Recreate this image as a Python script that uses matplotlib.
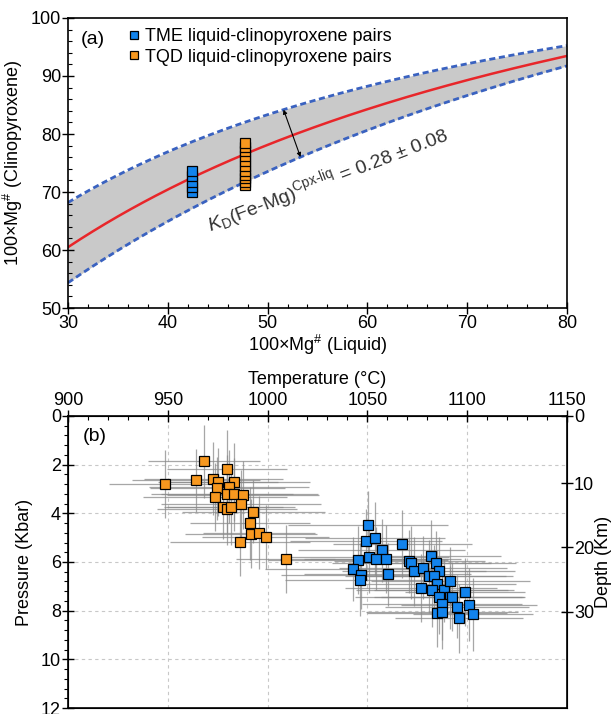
import numpy as np
import matplotlib.pyplot as plt
from matplotlib.ticker import MultipleLocator

plt.rcParams['font.family'] = ['Liberation Sans', 'DejaVu Sans']
plt.rcParams['mathtext.fontset'] = 'custom'
plt.rcParams['mathtext.rm'] = 'Liberation Sans'
plt.rcParams['mathtext.it'] = 'Liberation Sans:italic'

# panel (a): Kd(Fe-Mg) cpx-liquid equilibrium
kd_mid = 0.28
kd_lo = 0.20
kd_hi = 0.36
mg_liq = np.linspace(30, 80, 200)

tme_liq = [42.4, 42.4, 42.4, 42.4, 42.4]
tme_cpx = [70.0, 70.9, 71.8, 72.7, 73.6]
tqd_liq = [47.7] * 11
tqd_cpx = [71.2, 71.8, 72.4, 73.0, 73.6, 74.5, 75.4, 76.2, 77.0, 77.8, 78.4]

# panel (b): thermobarometry
tqd_T = [968.0, 979.5, 948.5, 964.1, 972.9, 975.1, 983.4, 974.9, 980.8, 973.5, 979.5, 983.4,
         987.7, 977.9, 979.8, 981.8, 986.8, 992.9, 991.3, 991.7, 995.6, 999.0, 986.2, 1009.0]
tqd_P = [1.86, 2.17, 2.79, 2.65, 2.58, 2.73, 2.72, 2.97, 2.90, 3.34, 3.21, 3.21,
         3.24, 3.75, 3.82, 3.72, 3.61, 3.93, 4.41, 4.83, 4.80, 4.97, 5.19, 5.89]
tqd_Terr = [28, 30, 28, 32, 35, 30, 38, 34, 40, 36, 33, 42,
            38, 30, 35, 32, 40, 36, 30, 33, 28, 32, 35, 25]
tqd_Perr = [1.5, 1.6, 1.4, 1.3, 1.5, 1.4, 1.6, 1.3, 1.5, 1.4, 1.6, 1.5,
            1.4, 1.3, 1.5, 1.6, 1.4, 1.3, 1.5, 1.4, 1.5, 1.3, 1.4, 1.4]

tme_T = [1050.2, 1049.2, 1053.8, 1057.1, 1045.3, 1050.8, 1054.2, 1059.1, 1042.9, 1046.9,
         1046.5, 1060.1, 1067.6, 1071.1, 1072.1, 1073.5, 1077.8, 1076.9, 1081.8, 1084.3,
         1085.9, 1081.0, 1083.4, 1084.7, 1082.4, 1088.3, 1091.6, 1085.7, 1091.2, 1092.6,
         1087.3, 1084.9, 1087.3, 1094.8, 1099.1, 1101.1, 1095.8, 1103.1]
tme_P = [4.50, 5.12, 5.02, 5.52, 5.93, 5.79, 5.86, 5.89, 6.29, 6.55,
         6.73, 6.50, 5.27, 5.97, 6.04, 6.39, 6.23, 7.08, 5.77, 6.03,
         6.39, 6.59, 6.59, 6.92, 7.17, 7.17, 6.80, 7.45, 7.45, 7.42,
         7.72, 8.10, 8.07, 7.83, 7.25, 7.75, 8.32, 8.14]
tme_Terr = [40, 38, 35, 42, 45, 40, 36, 38, 44, 40,
            38, 42, 35, 38, 40, 36, 42, 38, 35, 40,
            38, 42, 36, 40, 38, 35, 40, 42, 38, 36,
            40, 35, 38, 36, 30, 34, 32, 30]
tme_Perr = [1.4, 1.3, 1.5, 1.3, 1.4, 1.5, 1.3, 1.4, 1.3, 1.4,
            1.5, 1.3, 1.4, 1.3, 1.5, 1.4, 1.3, 1.4, 1.5, 1.3,
            1.4, 1.5, 1.3, 1.4, 1.5, 1.3, 1.4, 1.5, 1.3, 1.4,
            1.5, 1.4, 1.5, 1.3, 1.4, 1.5, 1.4, 1.5]

depth_ticks = [0, 10, 20, 30]
depth_at_P = [0, 2.76, 5.40, 8.04]

blue = '#1283ec'
orange = '#f7981f'


def cpx_mg(liq, kd):
    x = liq / 100.0
    return 100.0 / (1 + kd * (1 - x) / x)


fig = plt.figure(figsize=(6.14, 7.14), dpi=100)

# ---- panel (a)
ax1 = fig.add_axes([0.1107, 0.5686, 0.8127, 0.4062])
ax1.fill_between(mg_liq, cpx_mg(mg_liq, kd_hi), cpx_mg(mg_liq, kd_lo), color='#c9c9c9', lw=0)
ax1.plot(mg_liq, cpx_mg(mg_liq, kd_lo), color='#3a62c0', lw=2, ls=(0, (2.2, 1.3)))
ax1.plot(mg_liq, cpx_mg(mg_liq, kd_hi), color='#3a62c0', lw=2, ls=(0, (2.2, 1.3)))
ax1.plot(mg_liq, cpx_mg(mg_liq, kd_mid), color='#e8262a', lw=1.8)
ax1.plot(tme_liq, tme_cpx, 's', color=blue, mec='black', mew=0.9, ms=7,
         label='TME liquid-clinopyroxene pairs')
ax1.plot(tqd_liq, tqd_cpx, 's', color=orange, mec='black', mew=0.9, ms=7,
         label='TQD liquid-clinopyroxene pairs')
ax1.annotate('', xy=(51.6, cpx_mg(51.6, kd_lo)), xytext=(53.3, cpx_mg(53.3, kd_hi)),
             arrowprops=dict(arrowstyle='<|-|>', color='black', lw=0.8,
                             mutation_scale=6, shrinkA=0, shrinkB=0))
ax1.text(56.0, 72.0, r'$K_{\mathrm{D}}$(Fe-Mg)$^{\mathrm{Cpx\text{-}liq}}$ = 0.28 ± 0.08',
         rotation=21, ha='center', va='center', rotation_mode='anchor',
         fontsize=14, color='#333333')
ax1.text(0.026, 0.925, '(a)', transform=ax1.transAxes, fontsize=14, va='center')
ax1.legend(loc='upper left', bbox_to_anchor=(0.1, 0.99), frameon=False, fontsize=13,
           handletextpad=0.1, handlelength=1.0, borderaxespad=0, labelspacing=0.2,
           markerscale=0.9)
ax1.set_xlim(30, 80)
ax1.set_ylim(50, 100)
ax1.xaxis.set_major_locator(MultipleLocator(10))
ax1.xaxis.set_minor_locator(MultipleLocator(2))
ax1.yaxis.set_major_locator(MultipleLocator(10))
ax1.yaxis.set_minor_locator(MultipleLocator(2))
ax1.tick_params(which='major', direction='inout', length=8, width=1, labelsize=13, pad=1)
ax1.tick_params(which='minor', direction='in', length=3, width=0.8)
ax1.set_xlabel('100×Mg$^{\\#}$ (Liquid)', fontsize=13, labelpad=1)
ax1.set_ylabel('100×Mg$^{\\#}$ (Clinopyroxene)', fontsize=13, labelpad=4)
for s in ax1.spines.values():
    s.set_linewidth(1.2)

# ---- panel (b)
ax2 = fig.add_axes([0.1107, 0.0084, 0.8127, 0.409])
ax2.errorbar(tqd_T, tqd_P, xerr=tqd_Terr, yerr=tqd_Perr, fmt='none',
             ecolor='#8a8a8a', elinewidth=0.9, alpha=0.75, zorder=2)
ax2.errorbar(tme_T, tme_P, xerr=tme_Terr, yerr=tme_Perr, fmt='none',
             ecolor='#8a8a8a', elinewidth=0.9, alpha=0.75, zorder=2)
ax2.plot(tqd_T, tqd_P, 's', color=orange, mec='black', mew=0.9, ms=6.5, zorder=3)
ax2.plot(tme_T, tme_P, 's', color=blue, mec='black', mew=0.9, ms=6.5, zorder=3)
ax2.set_xlim(900, 1150)
ax2.set_ylim(12, 0)
ax2.xaxis.tick_top()
ax2.xaxis.set_label_position('top')
ax2.xaxis.set_major_locator(MultipleLocator(50))
ax2.xaxis.set_minor_locator(MultipleLocator(10))
ax2.yaxis.set_major_locator(MultipleLocator(2))
ax2.yaxis.set_minor_locator(MultipleLocator(0.4))
ax2.grid(which='major', color='#c8c8c8', ls=(0, (3, 3)), lw=0.8)
ax2.tick_params(which='major', direction='inout', length=8, width=1, labelsize=13, pad=1)
ax2.tick_params(which='minor', direction='in', length=3, width=0.8)
ax2.tick_params(axis='y', which='minor', direction='out')
ax2.set_xlabel('Temperature (°C)', fontsize=13, labelpad=6)
ax2.set_ylabel('Pressure (Kbar)', fontsize=13, labelpad=6)
ax2.text(0.03, 0.93, '(b)', transform=ax2.transAxes, fontsize=14, va='center')
for s in ax2.spines.values():
    s.set_linewidth(1.2)

ax3 = ax2.twinx()
ax3.set_ylim(12, 0)
ax3.set_yticks(depth_at_P)
ax3.set_yticklabels([str(d) for d in depth_ticks])
ax3.tick_params(direction='inout', length=8, width=1, labelsize=13, pad=1)
ax3.set_ylabel('Depth (Km)', fontsize=13, labelpad=1)

fig.savefig('out.png', dpi=100)
